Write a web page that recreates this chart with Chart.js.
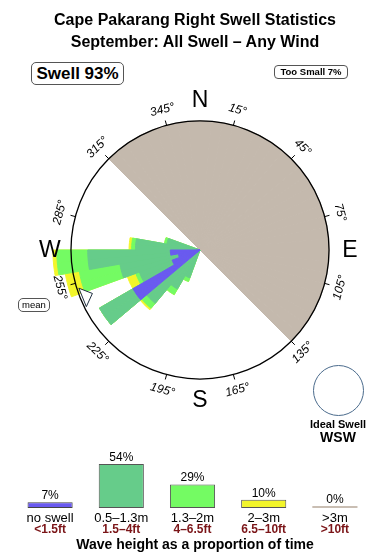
<!DOCTYPE html>
<html>
<head>
<meta charset="utf-8">
<script src="https://cdn.jsdelivr.net/npm/chart.js@4.4.0/dist/chart.umd.min.js"></script>
<style>
body { margin: 0; background: #fff; font-family: "Liberation Sans", Arial, sans-serif; color: #000; }
#page { position: relative; width: 390px; height: 560px; overflow: hidden; }
#page canvas { position: absolute; }
.title { position: absolute; left: 0; top: 9px; width: 390px; text-align: center; font-weight: bold; font-size: 16px; line-height: 22px; }
.box { position: absolute; border: 1px solid #555; border-radius: 5px; text-align: center; font-weight: bold; box-sizing: border-box; background: #fff; }
#ideal { position: absolute; left: 313px; top: 365px; width: 51px; height: 51px; border: 1px solid #4b6b8c; border-radius: 50%; box-sizing: border-box; }
.ideal-t { position: absolute; left: 288px; width: 100px; text-align: center; font-weight: bold; }
</style>
</head>
<body>
<div id="page">
  <div id="roseWrap" style="position:absolute;left:0;top:0;width:390px;height:560px;"><canvas id="rose"></canvas></div>
  <div id="barWrap" style="position:absolute;left:0;top:440px;width:390px;height:120px;"><canvas id="bars"></canvas></div>

  <div class="title">Cape Pakarang Right Swell Statistics<br>September: All Swell – Any Wind</div>
  <div class="box" style="left:31px;top:62px;width:93px;height:23px;font-size:17px;line-height:21px;">Swell 93%</div>
  <div class="box" style="left:274px;top:65px;width:74px;height:14px;font-size:9.5px;line-height:12px;border-radius:4px;">Too Small 7%</div>
  <div class="box" style="left:18px;top:298px;width:32px;height:14px;font-size:9.5px;line-height:12px;font-weight:normal;">mean</div>
  <div id="ideal"></div>
  <div class="ideal-t" style="top:418px;font-size:11px;">Ideal Swell</div>
  <div class="ideal-t" style="top:429px;font-size:14px;">WSW</div>
</div>

<script>
// 方向別のうねり (10°ビンの中心, ring = 100)
const directions = [205, 215, 225, 235, 245, 255, 265, 275, 285];
const noSwell   = [0,  0,  0,   60, 23, 17, 23, 0,  0];
const band05_13 = [23, 35, 54,  30, 27, 46, 64, 50, 26];
const band13_2  = [3,  5,  5,   0,  3,  32, 24, 3,  2];
const band2_3   = [0,  0,  1.5, 0,  7,  11, 3,  2,  0];

const landFrom = 315, landTo = 135;   // 陸側 (時計回り)
const ringValue = 100;
const meanDirection = 248;
const tickDegrees = [15, 45, 75, 105, 135, 165, 195, 225, 255, 285, 315, 345];
const compass = [['N', 0], ['E', 90], ['S', 180], ['W', 270]];

// 下の凡例
const heightLabels = ['no swell', '0.5–1.3m', '1.3–2m', '2–3m', '>3m'];
const feetLabels = ['<1.5ft', '1.5–4ft', '4–6.5ft', '6.5–10ft', '>10ft'];
const heightShares = [7, 54, 29, 10, 0];

const colours = ['#6a5af0', '#66cc8a', '#74fb63', '#f2f52a', '#c9beb3'];
const landColour = '#c4b9ad';
const FONT = '"Liberation Sans", Arial, sans-serif';

Chart.defaults.font.family = FONT;

// 5°セグメントに展開
const segCount = 72;
function segmentValues(series) {
    return Array.from({ length: segCount }, (_, i) => {
        const k = directions.indexOf(Math.floor(i / 2) * 10 + 5);
        return k < 0 ? 0 : series[k];
    });
}
function addSeries(a, b) { return a.map((v, i) => v + b[i]); }

const cum1 = noSwell;
const cum2 = addSeries(cum1, band05_13);
const cum3 = addSeries(cum2, band13_2);
const cum4 = addSeries(cum3, band2_3);

const landValues = Array.from({ length: segCount }, (_, i) =>
    (i * 5 >= landFrom || i * 5 + 5 <= landTo) ? ringValue : 0);

function ds(values, colour) {
    return {
        data: values,
        backgroundColor: colour,
        borderColor: colour,
        borderWidth: c => c.raw > 0 ? 1 : 0
    };
}

// リング・目盛り・方位
const roseDecor = {
    id: 'roseDecor',
    afterDatasetsDraw(chart) {
        const r = chart.scales.r;
        const ctx = chart.ctx;
        const cx = r.xCenter, cy = r.yCenter;
        const ring = r.getDistanceFromCenterForValue(ringValue);
        const pt = (deg, dist) => {
            const a = (deg - 90) * Math.PI / 180;
            return [cx + Math.cos(a) * dist, cy + Math.sin(a) * dist];
        };
        ctx.save();

        // mean marker
        const m0 = pt(meanDirection - 4.5, ring - 2);
        const m1 = pt(meanDirection + 4.5, ring - 2);
        const tip = pt(meanDirection, ring - 13);
        ctx.beginPath();
        ctx.moveTo(m0[0], m0[1]); ctx.lineTo(tip[0], tip[1]); ctx.lineTo(m1[0], m1[1]);
        ctx.closePath();
        ctx.fillStyle = '#fff'; ctx.fill();
        ctx.strokeStyle = '#203040'; ctx.lineWidth = 1; ctx.stroke();

        // ring
        ctx.beginPath();
        ctx.arc(cx, cy, ring, 0, Math.PI * 2);
        ctx.lineWidth = 1.3; ctx.strokeStyle = '#000'; ctx.stroke();

        ctx.lineWidth = 1;
        ctx.fillStyle = '#000';
        ctx.textAlign = 'center';
        ctx.textBaseline = 'middle';
        tickDegrees.forEach(d => {
            const p0 = pt(d, ring), p1 = pt(d, ring + 5);
            ctx.beginPath(); ctx.moveTo(p0[0], p0[1]); ctx.lineTo(p1[0], p1[1]); ctx.stroke();
            const [x, y] = pt(d, ring + 16);
            const rot = (d > 90 && d < 270) ? d - 180 : d;
            ctx.save();
            ctx.translate(x, y);
            ctx.rotate(rot * Math.PI / 180);
            ctx.font = 'italic 12px ' + FONT;
            ctx.fillText(d + '°', 0, 0);
            ctx.restore();
        });

        ctx.font = '23px ' + FONT;
        compass.forEach(([label, d]) => {
            const [x, y] = pt(d, ring + 21);
            ctx.fillText(label, x, y + 1);
        });
        ctx.restore();
    }
};

new Chart(document.getElementById('rose'), {
    type: 'polarArea',
    data: {
        labels: Array.from({ length: segCount }, (_, i) => i * 5),
        datasets: [
            ds(segmentValues(cum1), colours[0]),
            ds(segmentValues(cum2), colours[1]),
            ds(segmentValues(cum3), colours[2]),
            ds(segmentValues(cum4), colours[3]),
            ds(landValues, landColour)
        ]
    },
    options: {
        responsive: true,
        maintainAspectRatio: false,
        animation: false,
        layout: { padding: { left: 40, right: 30, top: 90, bottom: 150 } },
        plugins: { legend: { display: false }, tooltip: { enabled: false } },
        scales: {
            r: {
                min: 0,
                max: 124,
                startAngle: 0,
                ticks: { display: false },
                grid: { display: false },
                angleLines: { display: false },
                pointLabels: { display: false }
            }
        }
    },
    plugins: [roseDecor]
});

// 凡例バーの文字
const barText = {
    id: 'barText',
    afterDatasetsDraw(chart) {
        const ctx = chart.ctx;
        const base = chart.scales.y.getPixelForValue(0);
        ctx.save();
        ctx.textAlign = 'center';
        chart.getDatasetMeta(0).data.forEach((bar, i) => {
            ctx.fillStyle = '#000';
            ctx.font = '12px ' + FONT;
            ctx.textBaseline = 'alphabetic';
            ctx.fillText(heightShares[i] + '%', bar.x, bar.y - 3);
            ctx.textBaseline = 'middle';
            ctx.font = '13px ' + FONT;
            ctx.fillText(heightLabels[i], bar.x, base + 10);
            ctx.fillStyle = '#7b1518';
            ctx.font = 'bold 12px ' + FONT;
            ctx.fillText(feetLabels[i], bar.x, base + 22);
        });
        ctx.fillStyle = '#000';
        ctx.font = 'bold 14px ' + FONT;
        ctx.fillText('Wave height as a proportion of time', 195, base + 37);
        ctx.restore();
    }
};

new Chart(document.getElementById('bars'), {
    type: 'bar',
    data: {
        labels: heightLabels,
        datasets: [{
            data: heightShares,
            backgroundColor: colours,
            borderColor: ['#444', '#555', '#555', '#555', '#c9beb3'],
            borderWidth: [1, 1, 1, 1, 0],
            borderSkipped: false,
            minBarLength: 2,
            barPercentage: 0.634,
            categoryPercentage: 1
        }]
    },
    options: {
        responsive: true,
        maintainAspectRatio: false,
        animation: false,
        layout: { padding: { left: 14.5, right: 19.5, top: 0, bottom: 52 } },
        plugins: { legend: { display: false }, tooltip: { enabled: false } },
        scales: {
            x: { display: false },
            y: { display: false, min: 0, max: 83.5 }
        }
    },
    plugins: [barText]
});
</script>
</body>
</html>
